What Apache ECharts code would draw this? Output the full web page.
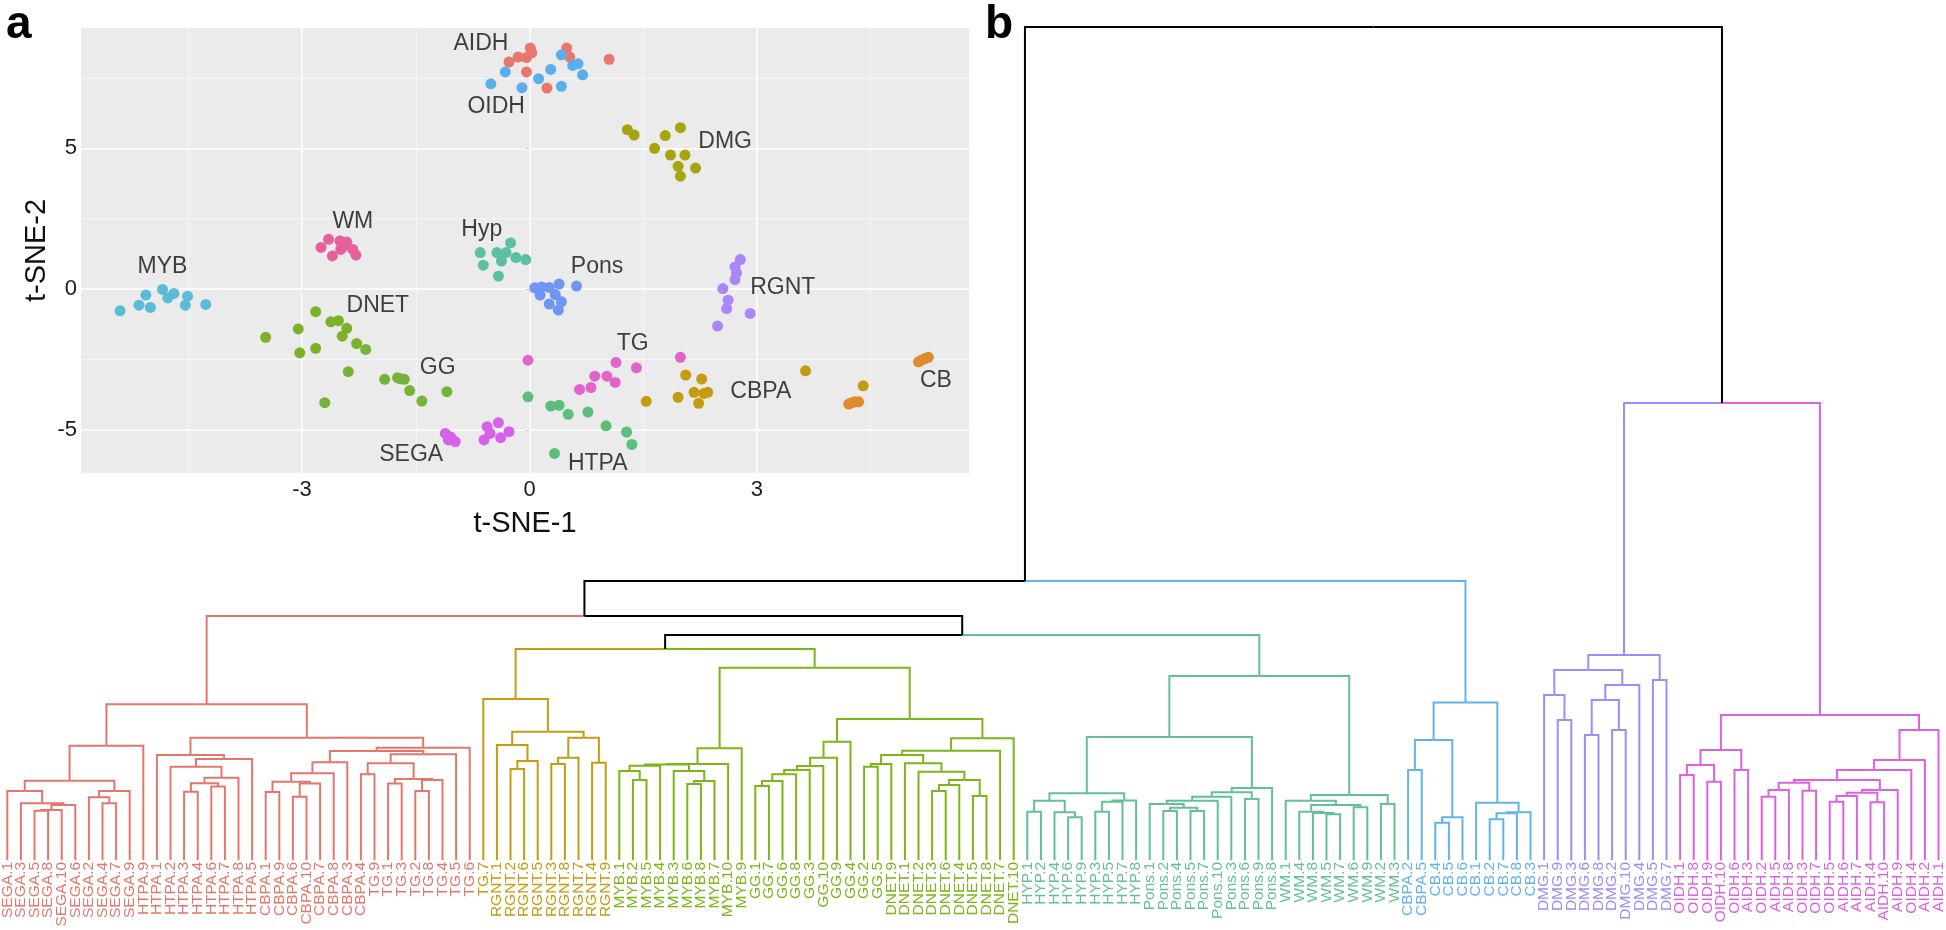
<!DOCTYPE html>
<html><head><meta charset="utf-8">
<script src="https://cdn.jsdelivr.net/npm/echarts@6/dist/echarts.min.js"></script>
<style>html,body{margin:0;padding:0;background:#fff}#c{width:1946px;height:930px}</style>
</head><body><div id="c"></div>
<script>
const FONT = '"Liberation Sans", Arial, Helvetica, sans-serif';
// ---------- panel a: t-SNE ----------
const tsneAIDH = [[-0.27,8.06],[-0.15,8.24],[-0.04,8.22],[0.01,8.56],[0.03,8.39],[-0.04,7.71],[0.23,7.14],[0.49,8.56],[0.53,8.24],[1.05,8.16]];
const tsneOIDH = [[-0.51,7.29],[-0.32,7.71],[-0.10,7.15],[0.12,7.47],[0.28,7.80],[0.42,7.20],[0.42,8.32],[0.57,7.94],[0.64,8.00],[0.70,7.61]];
const tsneDMG = [[1.29,5.66],[1.38,5.47],[1.79,5.45],[1.99,5.73],[1.65,5.00],[1.86,4.76],[2.05,4.76],[1.96,4.36],[1.99,4.01],[2.19,4.30]];
const tsneWM = [[-2.75,1.48],[-2.65,1.77],[-2.60,1.18],[-2.50,1.71],[-2.41,1.67],[-2.49,1.41],[-2.33,1.41],[-2.29,1.21],[-2.46,1.50]];
const tsneHyp = [[-0.65,1.30],[-0.61,0.85],[-0.43,1.30],[-0.31,1.30],[-0.25,1.64],[-0.37,1.00],[-0.18,1.12],[-0.05,1.05],[-0.41,0.46]];
const tsnePons = [[0.07,0.05],[0.16,0.08],[0.26,0.06],[0.39,0.18],[0.62,0.11],[0.14,-0.21],[0.34,-0.19],[0.42,-0.45],[0.26,-0.53],[0.38,-0.74]];
const tsneRGNT = [[2.78,1.05],[2.71,0.79],[2.73,0.58],[2.71,0.34],[2.55,0.02],[2.62,-0.39],[2.60,-0.69],[2.91,-0.86],[2.48,-1.31]];
const tsneMYB = [[-5.40,-0.77],[-5.15,-0.57],[-5.06,-0.21],[-5.00,-0.65],[-4.84,-0.01],[-4.77,-0.31],[-4.69,-0.15],[-4.54,-0.57],[-4.51,-0.25],[-4.27,-0.54]];
const tsneDNET = [[-3.48,-1.71],[-3.05,-1.41],[-3.03,-2.26],[-2.82,-0.80],[-2.82,-2.10],[-2.62,-1.16],[-2.52,-1.12],[-2.41,-1.39],[-2.47,-1.67],[-2.28,-1.93]];
const tsneGG = [[-2.16,-2.14],[-2.39,-2.93],[-2.70,-4.03],[-1.91,-3.20],[-1.74,-3.14],[-1.65,-3.20],[-1.70,-3.18],[-1.58,-3.60],[-1.42,-3.97],[-1.09,-3.64]];
const tsneHTPA = [[-0.02,-3.82],[0.28,-4.15],[0.39,-4.12],[0.51,-4.44],[0.77,-4.36],[1.01,-4.85],[1.28,-5.07],[1.35,-5.51],[0.33,-5.83]];
const tsneTG = [[-0.02,-2.52],[0.66,-3.56],[0.81,-3.49],[0.86,-3.09],[1.02,-3.09],[1.13,-3.31],[1.14,-2.60],[1.41,-2.79],[1.99,-2.42]];
const tsneCBPA = [[1.54,-3.98],[1.96,-3.84],[2.06,-3.05],[2.17,-3.66],[2.27,-3.19],[2.35,-3.66],[2.23,-4.05],[2.30,-3.70],[3.64,-2.90],[4.40,-3.43]];
const tsneCB = [[5.13,-2.58],[5.17,-2.52],[5.22,-2.46],[5.26,-2.42],[4.21,-4.08],[4.25,-4.03],[4.29,-4.00],[4.34,-4.00]];
const tsneSEGA = [[-1.11,-5.12],[-1.07,-5.35],[-0.98,-5.41],[-0.56,-4.88],[-0.52,-5.12],[-0.60,-5.35],[-0.41,-4.74],[-0.38,-5.27],[-0.27,-5.06],[-1.04,-5.25]];

const groupNames = ['AIDH','OIDH','DMG','WM','Hyp','Pons','RGNT','MYB','DNET','GG','HTPA','TG','CBPA','CB','SEGA'];
const groupData = [tsneAIDH,tsneOIDH,tsneDMG,tsneWM,tsneHyp,tsnePons,tsneRGNT,tsneMYB,tsneDNET,tsneGG,tsneHTPA,tsneTG,tsneCBPA,tsneCB,tsneSEGA];
const groupColors = ['#E8776D','#5AAEEC','#A8A30E','#E6619B','#5CBFA4','#6F96F2','#AA86F8','#5ABCD6','#7CB22A','#74B43A','#5DBE7C','#E264CB','#C69B12','#E08B2A','#D562E8'];
const groupLabelPos = [['AIDH',-0.64,8.72],['OIDH',-0.44,6.49],['DMG',2.58,5.22],['WM',-2.33,2.39],['Hyp',-0.63,2.13],['MYB',-4.84,0.79],['Pons',0.89,0.79],['RGNT',3.34,0.06],['DNET',-2.00,-0.57],['GG',-1.21,-2.78],['TG',1.36,-1.93],['CBPA',3.05,-3.64],['CB',5.36,-3.23],['SEGA',-1.56,-5.89],['HTPA',0.90,-6.18]];
const xTicks = [-3,0,3], yTicks = [-5,0,5];
const xMinorGrid = [-4.5,-1.5,1.5,4.5], yMinorGrid = [-2.5,2.5,7.5];

// ---------- panel b: dendrogram ----------
const leafLabels = ['SEGA.1','SEGA.3','SEGA.5','SEGA.8','SEGA.10','SEGA.6','SEGA.2','SEGA.4','SEGA.7','SEGA.9',
 'HTPA.9','HTPA.1','HTPA.2','HTPA.3','HTPA.4','HTPA.6','HTPA.7','HTPA.8','HTPA.5',
 'CBPA.1','CBPA.9','CBPA.6','CBPA.10','CBPA.7','CBPA.8','CBPA.3','CBPA.4',
 'TG.9','TG.1','TG.3','TG.2','TG.8','TG.4','TG.5','TG.6','TG.7',
 'RGNT.1','RGNT.2','RGNT.6','RGNT.5','RGNT.3','RGNT.8','RGNT.7','RGNT.4','RGNT.9',
 'MYB.1','MYB.2','MYB.5','MYB.4','MYB.3','MYB.6','MYB.8','MYB.7','MYB.10','MYB.9',
 'GG.1','GG.7','GG.6','GG.8','GG.3','GG.10','GG.9','GG.4','GG.2','GG.5',
 'DNET.9','DNET.1','DNET.2','DNET.3','DNET.6','DNET.4','DNET.5','DNET.8','DNET.7','DNET.10',
 'HYP.1','HYP.2','HYP.4','HYP.6','HYP.9','HYP.3','HYP.5','HYP.7','HYP.8',
 'Pons.1','Pons.2','Pons.4','Pons.5','Pons.7','Pons.10','Pons.3','Pons.6','Pons.9','Pons.8',
 'WM.1','WM.4','WM.8','WM.5','WM.7','WM.6','WM.9','WM.2','WM.3',
 'CBPA.2','CBPA.5','CB.4','CB.5','CB.6','CB.1','CB.2','CB.7','CB.8','CB.3',
 'DMG.1','DMG.9','DMG.3','DMG.6','DMG.8','DMG.2','DMG.10','DMG.4','DMG.5','DMG.7',
 'OIDH.1','OIDH.8','OIDH.9','OIDH.10','OIDH.6','AIDH.3','OIDH.2','AIDH.5','AIDH.8','OIDH.3',
 'OIDH.7','OIDH.5','AIDH.6','AIDH.7','AIDH.4','AIDH.10','AIDH.9','OIDH.4','AIDH.2','AIDH.1'];
const clusterColors = {red:'#E5766C', gold:'#C49C12', green:'#7CB518', teal:'#63C096', blue:'#62B3EA', purple:'#A08BFB', magenta:'#DD62E3'};
// merge nodes: N(height, left, right, clusterColour)
const N = (h, a, b, col) => ({h, kids:[a, b], col});
const segaL = N(69, 'SEGA.1', N(56.7, 'SEGA.3', N(55, N(50, N(49.3,'SEGA.5','SEGA.8'), 'SEGA.10'), 'SEGA.6')));
const segaR = N(69, N(62.7, 'SEGA.2', N(56.7,'SEGA.4','SEGA.7')), 'SEGA.9');
const redA = N(114.3, N(79.3, segaL, segaR), 'HTPA.9');
const htpa = N(105, 'HTPA.1', N(101, N(93.3, 'HTPA.2', N(82.3, N(76.7, N(68.3,'HTPA.3','HTPA.4'), N(73.5,'HTPA.6','HTPA.7')), 'HTPA.8')), 'HTPA.5'));
const cbpa = N(97.7, N(86.7, N(78.3, N(68,'CBPA.1','CBPA.9'), N(76.5, N(63.3,'CBPA.6','CBPA.10'), 'CBPA.7')), 'CBPA.8'), 'CBPA.3');
const tg = N(105.7, N(96.7, N(85.7,'CBPA.4','TG.9'), N(81, N(76.5,'TG.1','TG.3'), N(80, N(69,'TG.2','TG.8'), 'TG.4'))), 'TG.5');
const redRoot = N(155.7, redA, N(122.3, htpa, N(112.3, N(109, cbpa, tg), 'TG.6')), 'red');
const gold = N(161, 'TG.7', N(128.3, N(115, 'RGNT.1', N(99, N(91,'RGNT.2','RGNT.6'), 'RGNT.5')), N(122.3, N(102.3, N(96,'RGNT.3','RGNT.8'), 'RGNT.7'), N(97.3,'RGNT.4','RGNT.9'))), 'gold');
const mybB = N(94.3, N(89, 'MYB.1', N(80,'MYB.2','MYB.5')), 'MYB.4');
const mybC = N(89, 'MYB.3', N(79, N(76,'MYB.6','MYB.8'), 'MYB.7'));
const myb = N(111.7, N(96, N(95.5, mybB, mybC), 'MYB.10'), 'MYB.9');
const gg = N(118.3, N(102.3, N(94, N(90, N(85.7, N(79, N(74,'GG.1','GG.7'), 'GG.6'), 'GG.8'), 'GG.3'), 'GG.10'), 'GG.9'), 'GG.4');
const dnet = N(121.7, N(109.3, N(105, N(96, N(93.3,'GG.2','GG.5'), 'DNET.9'), N(96.7, 'DNET.1', N(88.3, 'DNET.2', N(80, N(75, N(69,'DNET.3','DNET.6'), 'DNET.4'), N(64,'DNET.5','DNET.8'))))), 'DNET.7'), 'DNET.10');
const green = N(192.3, myb, N(141, gg, dnet), 'green');
const hyp = N(66.7, N(59.3, N(48.3,'HYP.1','HYP.2'), N(47.7,'HYP.4', N(42.7,'HYP.6','HYP.9'))), N(59.5, N(58.3, N(48.3,'HYP.3','HYP.5'), 'HYP.7'), 'HYP.8'));
const pons = N(72, N(67.7, N(63.3, N(59.3, N(56,'Pons.1', N(52.3, N(49,'Pons.2','Pons.4'), N(49,'Pons.5','Pons.7'))), 'Pons.10'), 'Pons.3'), N(61,'Pons.6','Pons.9')), 'Pons.8');
const wm = N(65, N(59.3, 'WM.1', N(55, N(48.3,'WM.4', N(47,'WM.8', N(45.7,'WM.5','WM.7'))), N(52.7,'WM.6','WM.9'))), N(56,'WM.2','WM.3'));
const teal = N(184, N(123, hyp, pons), wm, 'teal');
const blue = N(157.5, N(120, N(90,'CBPA.2','CBPA.5'), N(42.7, N(37.3,'CB.4','CB.5'), 'CB.6')), N(57.3, 'CB.1', N(47.7, N(46.7, N(40.7,'CB.2','CB.7'), 'CB.8'), 'CB.3')), 'blue');
const dmgA1 = N(165, 'DMG.1', N(140,'DMG.9','DMG.3'));
const dmgA2 = N(160, N(125,'DMG.6','DMG.8'), N(130,'DMG.2','DMG.10'));
const dmg = N(205, N(190, dmgA1, N(175, dmgA2, 'DMG.4')), N(180,'DMG.5','DMG.7'), 'purple');
const idhL = N(110, N(95, N(85,'OIDH.1','OIDH.8'), N(78.3,'OIDH.9','OIDH.10')), N(90,'OIDH.6','AIDH.3'));
const idhMid = N(80, N(77.3, N(70, N(63.3,'OIDH.2','AIDH.5'), 'AIDH.8'), N(69.3,'OIDH.3','OIDH.7')), N(70, N(67.3, N(64, N(58.3,'OIDH.5','AIDH.6'), 'AIDH.7'), N(57.7,'AIDH.4','AIDH.10')), 'AIDH.9'));
const idh = N(145, idhL, N(130, N(100, N(90, idhMid, 'OIDH.4'), 'AIDH.2'), 'AIDH.1'), 'magenta');
const root = N(833, N(279, N(244, redRoot, N(225, N(211, gold, green), teal)), blue), N(457, dmg, idh));

// ---- layout of dendrogram from tree ----
const leafIndex = {}; leafLabels.forEach((l, i) => leafIndex[l] = i);
const leafColor = leafLabels.map(() => '#000');
const segs = [];
function layout(node, col) {
  if (typeof node === 'string') { const i = leafIndex[node]; leafColor[i] = col; return {x: i, h: 0, col}; }
  const c = node.col ? clusterColors[node.col] : col;
  const L = layout(node.kids[0], c), R = layout(node.kids[1], c);
  const x = (L.x + R.x) / 2;
  segs.push({x, h: node.h, cx: L.x, ch: L.h, col: L.col});
  segs.push({x, h: node.h, cx: R.x, ch: R.h, col: R.col});
  return {x, h: node.h, col: c};
}
layout(root, '#000000');

const chart = echarts.init(document.getElementById('c'), null, {renderer: 'canvas'});
const scatterSeries = groupNames.map((g, gi) => ({
  type: 'scatter', name: g, xAxisIndex: 0, yAxisIndex: 0, data: groupData[gi],
  symbolSize: 11, itemStyle: {color: groupColors[gi], opacity: 1}, z: 5, silent: true
}));
scatterSeries[0].markLine = {
  silent: true, symbol: 'none', label: {show: false}, animation: false, z: 1,
  data: [
    ...xMinorGrid.map(v => ({xAxis: v, lineStyle: {color: '#F7F7F7', width: 0.8, type: 'solid'}})),
    ...yMinorGrid.map(v => ({yAxis: v, lineStyle: {color: '#F7F7F7', width: 0.8, type: 'solid'}})),
    ...xTicks.map(v => ({xAxis: v, lineStyle: {color: '#FFFFFF', width: 1.6, type: 'solid'}})),
    ...yTicks.map(v => ({yAxis: v, lineStyle: {color: '#FFFFFF', width: 1.6, type: 'solid'}}))
  ]
};

const option = {
  animation: false,
  backgroundColor: '#ffffff',
  textStyle: {fontFamily: FONT},
  grid: [
    {left: 81, top: 28, width: 888, height: 445, show: true, backgroundColor: '#EBEBEB', borderWidth: 0, outerBoundsMode: 'none', containLabel: false},
    {left: 7.3, right: 7.5, top: 0, bottom: 70, outerBoundsMode: 'none', containLabel: false}
  ],
  xAxis: [
    {type: 'value', gridIndex: 0, position: 'bottom', min: -5.915, max: 5.796,
     axisLine: {show: false}, splitLine: {show: false},
     axisTick: {show: true, customValues: xTicks, length: 4, lineStyle: {color: '#333'}},
     axisLabel: {customValues: xTicks, fontSize: 22, color: '#1a1a1a', margin: 6, fontFamily: FONT},
     name: 't-SNE-1', nameLocation: 'middle', nameGap: 36,
     nameTextStyle: {fontSize: 29, color: '#111', fontFamily: FONT}},
    {type: 'value', gridIndex: 1, position: 'bottom', min: 0, max: 142, show: false},
    {type: 'category', gridIndex: 1, position: 'bottom', boundaryGap: false,
     data: leafLabels.map((l, i) => ({value: l, textStyle: {color: leafColor[i]}})),
     axisLine: {show: false}, axisTick: {show: false}, splitLine: {show: false},
     axisLabel: {interval: 0, rotate: 90, fontSize: 15.5, margin: 2, fontFamily: FONT}}
  ],
  yAxis: [
    {type: 'value', gridIndex: 0, min: -6.525, max: 9.27,
     axisLine: {show: false}, splitLine: {show: false},
     axisTick: {show: true, customValues: yTicks, length: 4, lineStyle: {color: '#333'}},
     axisLabel: {customValues: yTicks, fontSize: 22, color: '#1a1a1a', margin: 4, fontFamily: FONT},
     name: 't-SNE-2', nameLocation: 'middle', nameGap: 30, nameRotate: 90,
     nameTextStyle: {fontSize: 29, color: '#111', fontFamily: FONT}},
    {type: 'value', gridIndex: 1, min: 0, max: 860, show: false}
  ],
  series: [
    ...scatterSeries,
    {type: 'scatter', xAxisIndex: 0, yAxisIndex: 0, symbolSize: 0, silent: true, z: 6,
     data: groupLabelPos.map(p => ({name: p[0], value: [p[1], p[2]]})),
     label: {show: true, position: 'inside', formatter: '{b}', fontSize: 23, color: '#111', fontFamily: FONT}},
    {type: 'custom', xAxisIndex: 1, yAxisIndex: 1, silent: true, z: 3,
     data: segs.map(s => [s.x, s.h, s.cx, s.ch]),
     renderItem: (params, api) => {
       const s = segs[params.dataIndex];
       const p0 = api.coord([api.value(0), api.value(1)]);
       const p1 = api.coord([api.value(2), api.value(1)]);
       const p2 = api.coord([api.value(2), api.value(3)]);
       return {type: 'polyline', shape: {points: [p0, p1, p2]},
               style: {stroke: s.col, lineWidth: 2, fill: null}};
     }}
  ],
  graphic: [
    {type: 'text', left: 6, top: 2, style: {text: 'a', font: 'bold 46px ' + FONT, fill: '#000'}},
    {type: 'text', left: 985, top: 2, style: {text: 'b', font: 'bold 46px ' + FONT, fill: '#000'}}
  ]
};
chart.setOption(option);
</script>
</body></html>
